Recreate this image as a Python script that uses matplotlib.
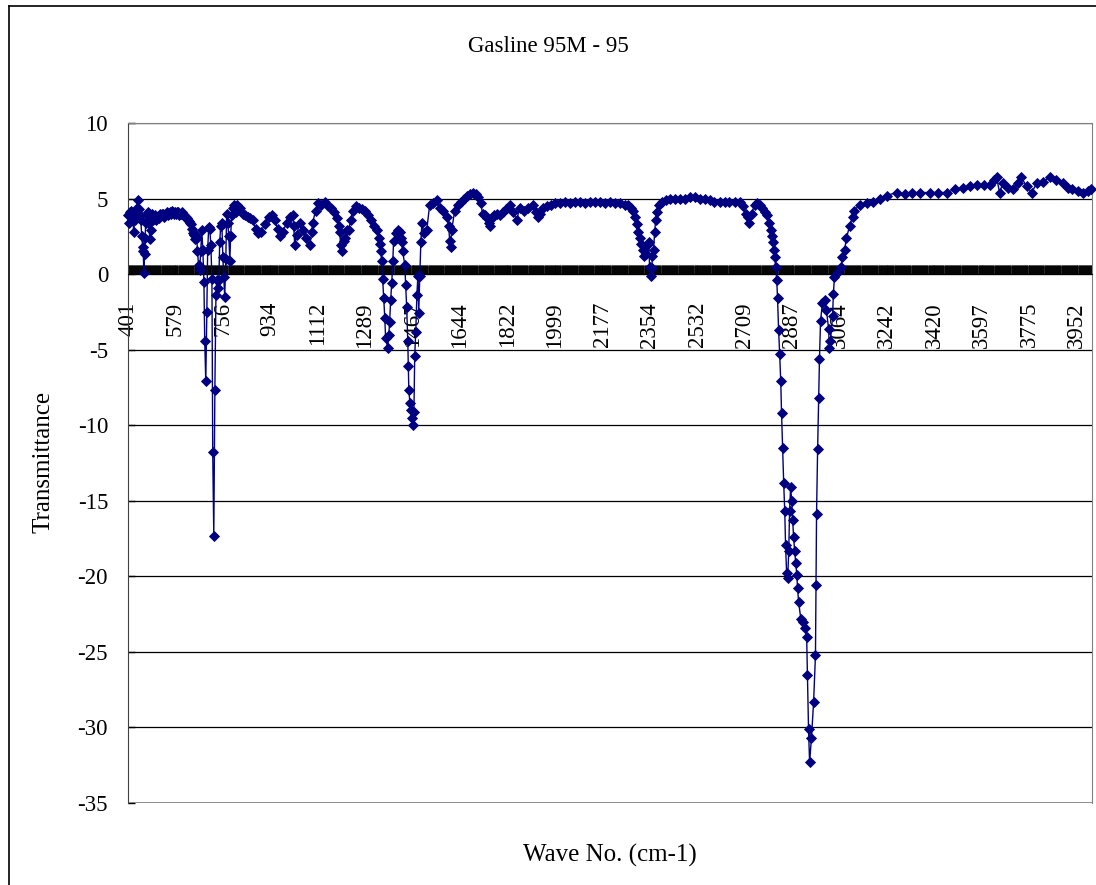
import numpy as np
import matplotlib
matplotlib.use("Agg")
import matplotlib.pyplot as plt
from matplotlib.lines import Line2D

# ---------------- data ----------------
title = "Gasline 95M - 95"
x_label = "Wave No. (cm-1)"
y_label = "Transmittance"

tick_labels = [401, 579, 756, 934, 1112, 1289, 1467, 1644, 1822, 1999, 2177,
               2354, 2532, 2709, 2887, 3064, 3242, 3420, 3597, 3775, 3952]

wave = [
    401, 405, 409, 412, 416, 420, 423, 427, 431, 435, 438, 442, 446, 450, 453, 457, 459, 461,
    464, 466, 468, 472, 476, 480, 483, 487, 491, 495, 498, 502, 506, 510, 513, 517, 521, 525,
    528, 532, 536, 539, 543, 547, 551, 554, 558, 562, 566, 569, 573, 577, 581, 584, 588, 592,
    596, 600, 603, 607, 611, 614, 618, 622, 626, 629, 633, 637, 640, 644, 648, 652, 655,
    659, 662, 666, 670, 674, 678, 682, 686, 689, 693, 697, 700, 704, 708, 712, 716, 719, 723,
    727, 731, 734, 738, 742, 745, 749, 753, 757, 760, 764, 768, 771, 775, 779, 783, 786, 790,
    794, 798, 802, 805, 809, 820, 831, 840, 850, 860, 869, 880, 888, 899, 914, 929, 940, 951,
    962, 970, 981, 996, 1007, 1018, 1022, 1026, 1033, 1045, 1056, 1067, 1082, 1090, 1093, 1104,
    1112, 1123, 1138, 1149, 1161, 1172, 1183, 1191, 1194, 1198, 1202, 1209, 1213, 1220, 1228,
    1235, 1243, 1254, 1265, 1277, 1288, 1299, 1310, 1322, 1333, 1340, 1344, 1348, 1351, 1355,
    1359, 1363, 1366, 1374, 1378, 1381, 1385, 1389, 1393, 1396, 1404, 1411, 1419, 1423, 1426,
    1430, 1438, 1441, 1445, 1449, 1451, 1453, 1457, 1460, 1464, 1468, 1472, 1475, 1479, 1483,
    1487, 1490, 1494, 1498, 1502, 1509, 1520, 1531, 1543, 1557, 1568, 1580, 1595, 1602, 1606,
    1609, 1613, 1625, 1636, 1647, 1658, 1670, 1681, 1692, 1703, 1711, 1722, 1729, 1737, 1744,
    1752, 1755, 1763, 1770, 1782, 1793, 1804, 1815, 1830, 1842, 1857, 1868, 1883, 1898, 1917,
    1928, 1935, 1943, 1954, 1969, 1984, 1999, 2018, 2036, 2055, 2074, 2093, 2111, 2130, 2149,
    2167, 2186, 2205, 2223, 2242, 2261, 2272, 2283, 2291, 2298, 2306, 2309, 2317, 2321, 2328,
    2332, 2339, 2343, 2347, 2351, 2354, 2358, 2362, 2365, 2369, 2373, 2377, 2381, 2388, 2399,
    2414, 2429, 2448, 2467, 2485, 2504, 2523, 2541, 2560, 2579, 2597, 2616, 2635, 2653, 2672,
    2691, 2702, 2714, 2721, 2728, 2736, 2747, 2755, 2766, 2773, 2785, 2792, 2800, 2807, 2811,
    2815, 2818, 2822, 2826, 2830, 2833, 2837, 2841, 2845, 2848, 2852, 2856, 2860, 2863, 2867,
    2871, 2875, 2878, 2882, 2886, 2890, 2893, 2897, 2901, 2905, 2908, 2912, 2920, 2927, 2934,
    2942, 2945, 2949, 2953, 2960, 2968, 2975, 2977, 2979, 2983, 2987, 2990, 2994, 3001, 3009,
    3016, 3024, 3027, 3031, 3039, 3042, 3046, 3057, 3072, 3074, 3084, 3091, 3103, 3114, 3121,
    3140, 3166, 3189, 3215, 3241, 3279, 3309, 3338, 3368, 3402, 3432, 3466, 3496, 3526, 3552,
    3578, 3604, 3627, 3642, 3653, 3664, 3676, 3694, 3713, 3732, 3746, 3765, 3784, 3803, 3825,
    3851, 3874, 3900, 3919, 3937, 3956, 3975, 3994, 4005,
]

transmittance = [
    3.9, 3.4, 4.1, 4.2, 3.6, 3.7, 2.8, 3.6, 4.0, 4.4, 4.9, 4.3, 3.9, 3.6, 2.5, 1.8, 1.5, 0.1,
    1.3, 2.4, 3.4, 3.9, 4.1, 3.4, 2.3, 2.9, 4.0, 3.6, 3.7, 3.9, 3.6, 3.8, 3.8, 3.7, 4.0, 3.9,
    4.0, 4.0, 3.8, 3.9, 4.0, 4.1, 3.9, 4.0, 4.1, 4.0, 4.2, 4.1, 4.0, 4.1, 4.0, 4.1, 4.1, 3.9,
    4.0, 4.0, 4.1, 3.9, 3.9, 3.8, 3.8, 3.7, 3.6, 3.5, 3.4, 3.3, 3.0, 2.7, 2.6, 2.3, 2.6,
    2.4, 1.5, 0.6, 0.3, 1.5, 2.9, 1.6, -0.5, -4.4, -7.1, -2.5, 1.6, 3.1, 3.0, 1.9, -0.3, -11.8, -17.3,
    -7.7, -1.4, -0.4, -0.9, -0.4, 2.1, 3.2, 3.4, 1.1, -0.2, -1.5, 1.0, 4.0, 3.4, 2.5, 0.9, 2.5, 3.9,
    4.4, 4.6, 4.4, 4.1, 4.6, 4.4, 4.0, 3.9, 3.8, 3.7, 3.6, 3.0, 2.7, 2.8, 3.3, 3.8, 3.9, 3.6,
    3.0, 2.5, 2.8, 3.4, 3.8, 3.9, 3.2, 1.9, 2.6, 3.4, 2.9, 2.4, 1.9, 2.8, 3.4, 4.2,
    4.7, 4.6, 4.8, 4.5, 4.4, 4.1, 3.7, 3.2, 2.8, 1.9, 1.5, 2.2, 2.4, 2.9, 2.9,
    3.6, 4.2, 4.5, 4.4, 4.3, 4.2, 3.9, 3.6, 3.2, 2.9, 2.4, 2.0, 1.5, 0.9, -0.3,
    -1.6, -2.9, -4.2, -4.9, -4.0, -3.2, -1.7, -0.6, 0.9, 2.2, 2.7, 2.9, 2.8, 2.4, 2.1,
    1.5, 0.6, -0.7, -2.2, -4.4, -6.1, -7.7, -8.5, -9.0, -9.5, -10.0, -9.1, -5.4, -3.8, -1.4,
    -0.1, -2.6, -0.1, 2.1, 3.4, 2.7, 2.9, 4.6, 4.7, 4.9, 4.4, 4.2, 3.8, 3.2, 2.2,
    1.8, 2.9, 4.2, 4.6, 4.8, 5.0, 5.2, 5.3, 5.4, 5.3, 5.1, 4.7, 4.0, 3.9, 3.7,
    3.4, 3.2, 3.7, 3.9, 4.0, 3.9, 4.1, 4.3, 4.6, 4.1, 3.6, 4.4, 4.2, 4.4, 4.6,
    4.1, 3.8, 4.0, 4.4, 4.5, 4.6, 4.7, 4.7, 4.8, 4.7, 4.8, 4.8, 4.7, 4.8, 4.8,
    4.8, 4.7, 4.8, 4.7, 4.7, 4.6, 4.6, 4.4, 4.2, 3.8, 3.3, 2.8, 2.4, 2.0, 1.6,
    1.2, 1.3, 1.9, 2.0, 2.1, 0.5, -0.1, 0.4, 1.2, 1.6, 2.8, 3.6, 4.1, 4.6, 4.8,
    4.9, 5.0, 5.0, 5.0, 5.0, 5.1, 5.1, 5.0, 5.0, 4.9, 4.8, 4.8, 4.8, 4.8, 4.8,
    4.8, 4.5, 4.0, 3.8, 3.4, 4.0, 4.6, 4.7, 4.6, 4.4, 4.1, 3.9, 3.4, 2.9, 2.5,
    2.1, 1.6, 1.1, 0.5, -0.4, -1.6, -3.7, -5.3, -7.1, -9.2, -11.5, -13.8, -15.7, -17.9, -19.8,
    -20.1, -18.3, -15.7, -14.1, -15.0, -16.3, -17.4, -18.3, -19.1, -19.9, -20.8, -21.7, -22.8, -23.0, -23.4,
    -24.0, -26.5, -30.1, -32.3, -30.7, -28.3, -25.2, -20.6, -15.9, -11.6, -8.2, -5.6, -3.1, -1.9, -1.7,
    -2.4, -3.6, -4.9, -4.4, -2.8, -1.3, -0.2, 0.1, 0.5, 1.1, 1.6, 2.4, 3.2, 3.8, 4.2,
    4.6, 4.7, 4.8, 5.0, 5.2, 5.4, 5.3, 5.4, 5.4, 5.4, 5.4, 5.4, 5.6, 5.7, 5.8,
    5.9, 5.9, 5.9, 6.2, 6.4, 5.4, 6.0, 5.7, 5.6, 6.0, 6.4, 5.8, 5.4, 6.0, 6.1,
    6.4, 6.2, 6.0, 5.7, 5.6, 5.5, 5.4, 5.5, 5.6,
]

y_ticks = [10, 5, 0, -5, -10, -15, -20, -25, -30, -35]
category_step = 1.9293          # spacing of the wavenumber categories
x_range = (400.0, 4010.0)

# ---------------- figure ----------------
W, H = 1096, 885
fig = plt.figure(figsize=(W / 100, H / 100), dpi=100)
fig.patch.set_facecolor("white")

left, right, top, bottom = 127.5, 1092, 123, 803
ax = fig.add_axes([left / W, 1 - bottom / H, (right - left) / W, (bottom - top) / H])

serif = ["Liberation Serif", "DejaVu Serif"]
navy = "#000080"

ax.plot(wave, transmittance, color=navy, lw=1.0, marker="D", ms=4.6,
        mfc=navy, mec=navy, mew=0.6, zorder=3, clip_on=False)

ax.set_xlim(*x_range)
ax.set_ylim(min(y_ticks), max(y_ticks))

# gridlines
ax.set_yticks(y_ticks)
ax.set_yticklabels([str(v) for v in y_ticks], fontfamily=serif, fontsize=16.5)
ax.yaxis.grid(True, color="black", lw=0.9)
ax.set_axisbelow(True)

# x axis crossing at zero with a tick at every category
ax.spines["bottom"].set_position(("data", 0))
ax.spines["bottom"].set_color("black")
ax.spines["left"].set_color("#404040")
ax.spines["top"].set_color("#808080")
ax.spines["right"].set_color("#808080")
ax.axhline(min(y_ticks), color="#808080", lw=1.2, zorder=2)

ax.set_xticks(tick_labels)
ax.set_xticklabels([str(v) for v in tick_labels], rotation=90,
                   fontfamily=serif, fontsize=16.5)
minor_pos = np.arange(x_range[0], x_range[1], category_step)
ax.set_xticks(minor_pos, minor=True)
ax.tick_params(axis="x", which="both", direction="in", length=6.5,
               width=0.6, color="black", pad=20)
ax.tick_params(axis="y", which="major", direction="in", length=5,
               width=1, color="black", pad=14)

# title & axis labels
fig.text(0.5, 1 - 47 / H, title, ha="center", va="center",
         fontfamily=serif, fontsize=16.5)
fig.text(610 / W, 1 - 855 / H, x_label, ha="center", va="center",
         fontfamily=serif, fontsize=18)
fig.text(43 / W, 1 - 462 / H, y_label, ha="center", va="center",
         rotation=90, fontfamily=serif, fontsize=18)

# outer chart border (left and top edges visible)
fig.add_artist(Line2D([8.5 / W, 8.5 / W], [0, 1 - 5.5 / H], color="black",
                      lw=1.2, transform=fig.transFigure))
fig.add_artist(Line2D([8.5 / W, 1], [1 - 5.5 / H, 1 - 5.5 / H], color="black",
                      lw=1.2, transform=fig.transFigure))

fig.savefig("out.png", dpi=100, facecolor="white")
